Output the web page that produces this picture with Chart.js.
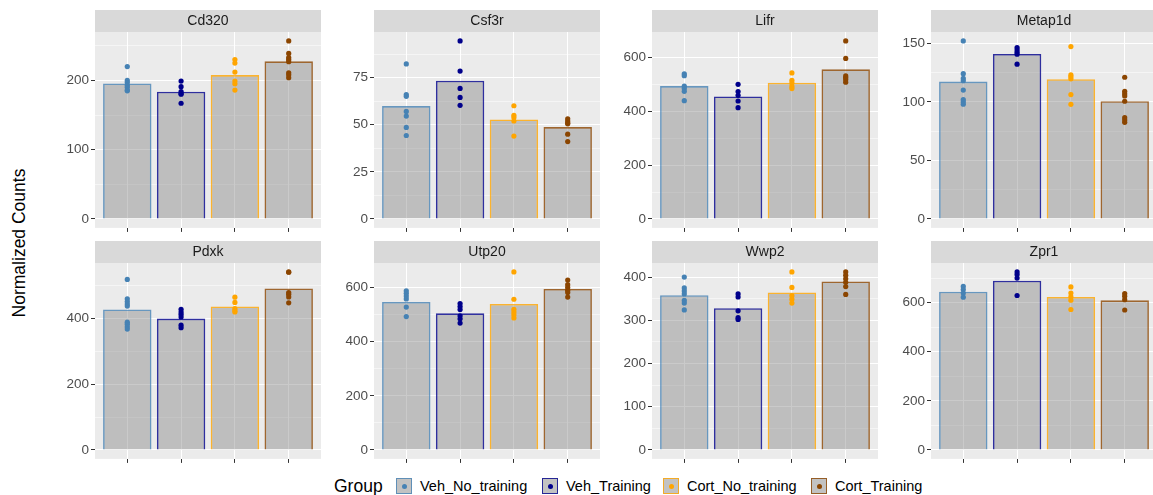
<!DOCTYPE html>
<html>
<head>
<meta charset="utf-8">
<script src="https://cdn.jsdelivr.net/npm/chart.js@4.4.0/dist/chart.umd.min.js"></script>
<style>
  body { margin: 0; background: #fff; width: 1153px; height: 495px; overflow: hidden; position: relative; font-family: 'Liberation Sans', Arial, sans-serif; }
  .panel { position: absolute; }
  #ytitle { position: absolute; left: 19px; top: 243px; transform: translate(-50%, -50%) rotate(-90deg); font-size: 17.5px; color: #000; white-space: nowrap; }
  #legend { position: absolute; left: 0; top: 476px; width: 1153px; height: 20px; color: #000; }
  #legend .ttl { position: absolute; left: 334px; top: 0; line-height: 20px; font-size: 17.5px; }
  #legend .key { position: absolute; top: 2px; width: 14px; height: 14px; background: #c2c2c2; border: 1px solid; }
  #legend .key span { position: absolute; left: 4.5px; top: 4.5px; width: 5px; height: 5px; border-radius: 50%; }
  #legend .lab { position: absolute; top: 0; line-height: 20px; font-size: 14.5px; white-space: nowrap; }
</style>
</head>
<body>
<div id="ytitle">Normalized Counts</div>
<div id="legend"><span class="ttl">Group</span></div>
<script>
const genes = ['Cd320', 'Csf3r', 'Lifr', 'Metap1d', 'Pdxk', 'Utp20', 'Wwp2', 'Zpr1'];
const groups = ['Veh_No_training', 'Veh_Training', 'Cort_No_training', 'Cort_Training'];
const groupColors = ['#4682B4', '#00008B', '#FFA500', '#8B4500'];
const barBorders = ['rgba(70,130,180,0.8)', 'rgba(0,0,139,0.8)', 'rgba(255,165,0,0.8)', 'rgba(139,69,0,0.8)'];

// group means (bar heights)
const cd320Mean = [195.6, 183.6, 207.7, 227.5];
const csf3rMean = [59.9, 73.4, 52.8, 48.8];
const lifrMean = [493.4, 455, 505.8, 555.4];
const metap1dMean = [117.3, 140.9, 119.3, 100.5];
const pdxkMean = [427.6, 400, 436.7, 491.8];
const utp20Mean = [546.9, 505, 539.5, 595];
const wwp2Mean = [358.2, 328, 364.4, 390];
const zpr1Mean = [644.7, 689.4, 623, 609.5];

// individual samples, one list per group
const cd320Pts = [[220, 200, 197, 193, 190, 186, 185], [199, 191, 184, 181, 180, 167], [230, 225, 212, 199, 195, 186], [257, 239, 233, 230, 227, 211, 208, 204]];
const csf3rPts = [[82.3, 66, 65.1, 57.1, 54.6, 48.6, 44.3], [94.5, 78.5, 69.3, 64.5, 60.3], [60.1, 55, 53.9, 52, 44], [53.2, 52, 51, 50.5, 45, 41.1]];
const lifrPts = [[539, 532, 493, 484, 474, 439], [500, 473, 459, 438, 413], [542, 515, 505, 492, 484], [661, 596, 531, 525, 518, 508]];
const metap1dPts = [[152, 124, 120, 118, 110, 102, 100, 98], [146.3, 144.3, 142.3, 140.6, 132.1], [147.2, 123, 121.5, 119.6, 106.2, 97.9], [121, 109, 107, 105, 100.5, 86.5, 84.5, 82.5]];
const pdxkPts = [[519, 460, 452, 444, 438, 389, 383, 375, 368], [428, 420, 413, 405, 380, 372], [465, 449, 430, 424, 420], [542, 541, 479, 474, 466, 448]];
const utp20Pts = [[588, 579, 569, 558, 528, 493], [541, 530, 519, 496, 485, 469], [658, 557, 520, 510, 500, 488], [628, 611, 600, 590, 582, 565]];
const wwp2Pts = [[400, 375, 368, 361, 346, 340, 324], [361, 354, 322, 306, 302], [412, 376, 357, 349, 340], [412, 404, 396, 388, 378, 360]];
const zpr1Pts = [[666, 653, 639, 622], [725, 714, 700, 629], [664, 639, 624, 610, 572], [637, 626, 612, 570]];

// y tick labels per panel
const cd320Ticks = [0, 100, 200];
const csf3rTicks = [0, 25, 50, 75];
const lifrTicks = [0, 200, 400, 600];
const metap1dTicks = [0, 50, 100, 150];
const pdxkTicks = [0, 200, 400];
const utp20Ticks = [0, 200, 400, 600];
const wwp2Ticks = [0, 100, 200, 300, 400];
const zpr1Ticks = [0, 200, 400, 600];

const means = [cd320Mean, csf3rMean, lifrMean, metap1dMean, pdxkMean, utp20Mean, wwp2Mean, zpr1Mean];
const points = [cd320Pts, csf3rPts, lifrPts, metap1dPts, pdxkPts, utp20Pts, wwp2Pts, zpr1Pts];
const ticks = [cd320Ticks, csf3rTicks, lifrTicks, metap1dTicks, pdxkTicks, utp20Ticks, wwp2Ticks, zpr1Ticks];

const colLeft = [95, 374, 652, 931];
const rowTop = [10, 241];
const AXW = 60, STRIP = 22, PW = 228, PH = 196, XAH = 10;
const FONT = "'Liberation Sans', Arial, sans-serif";

// grey strip + panel background
const panelDecor = {
  id: 'panelDecor',
  beforeDraw(chart, args, opts) {
    const { ctx, chartArea: a } = chart;
    ctx.save();
    ctx.fillStyle = '#ebebeb';
    ctx.fillRect(a.left, a.top, a.right - a.left, a.bottom - a.top);
    ctx.fillStyle = '#d9d9d9';
    ctx.fillRect(a.left, 0, a.right - a.left, a.top);
    ctx.fillStyle = '#1a1a1a';
    ctx.font = '14px ' + FONT;
    ctx.textAlign = 'center';
    ctx.textBaseline = 'middle';
    ctx.fillText(opts.title, (a.left + a.right) / 2, a.top / 2 + 0.5);
    ctx.restore();
  }
};

genes.forEach((gene, i) => {
  const col = i % 4, row = Math.floor(i / 4);
  const div = document.createElement('div');
  div.className = 'panel';
  div.style.left = (colLeft[col] - AXW) + 'px';
  div.style.top = rowTop[row] + 'px';
  const cv = document.createElement('canvas');
  cv.width = AXW + PW + 2;
  cv.height = STRIP + PH + XAH;
  div.appendChild(cv);
  document.body.appendChild(div);

  const majors = ticks[i];
  const top = Math.max(...means[i], ...points[i].flat());
  const yMin = -0.05 * top, yMax = 1.05 * top;
  const step = majors[1] - majors[0];
  const all = [];
  for (let v = 0; v <= yMax; v += step / 2) all.push(v);

  const datasets = [{
    type: 'bar',
    data: means[i].map((m, j) => ({ x: j + 1, y: m })),
    backgroundColor: 'rgba(128,128,128,0.42)',
    borderColor: barBorders,
    borderWidth: 1.6,
    barPercentage: 0.9,
    categoryPercentage: 1,
    order: 1
  }];
  groups.forEach((g, j) => {
    datasets.push({
      type: 'scatter',
      label: g,
      data: points[i][j].map(v => ({ x: j + 1, y: v })),
      backgroundColor: groupColors[j],
      borderWidth: 0,
      pointRadius: 2.6,
      order: 0
    });
  });

  new Chart(cv, {
    type: 'bar',
    data: { datasets },
    plugins: [panelDecor],
    options: {
      responsive: false,
      devicePixelRatio: 1,
      animation: false,
      events: [],
      layout: { padding: { top: STRIP, left: 0, right: 2, bottom: 0 } },
      plugins: {
        legend: { display: false },
        tooltip: { enabled: false },
        panelDecor: { title: gene }
      },
      scales: {
        x: {
          type: 'linear',
          min: 0.4,
          max: 4.6,
          offset: false,
          afterBuildTicks: s => { s.ticks = [1, 2, 3, 4].map(value => ({ value })); },
          afterFit: s => { s.height = XAH; },
          ticks: { callback: () => '', padding: 0 },
          grid: { color: '#ffffff', lineWidth: 1, offset: false, tickColor: '#333333', tickLength: 4 },
          border: { display: false }
        },
        y: {
          min: yMin,
          max: yMax,
          afterBuildTicks: s => { s.ticks = all.map(value => ({ value })); },
          afterFit: s => { s.width = AXW; },
          ticks: {
            autoSkip: false,
            padding: 2,
            color: '#4d4d4d',
            font: { family: FONT, size: 13.5 },
            callback: v => majors.includes(v) ? String(v) : ''
          },
          grid: {
            color: c => majors.includes(c.tick.value) ? '#ffffff' : 'rgba(255,255,255,0.5)',
            lineWidth: 1,
            tickColor: c => majors.includes(c.tick.value) ? '#333333' : 'rgba(0,0,0,0)',
            tickLength: 4
          },
          border: { display: false }
        }
      }
    }
  });
});

// legend: key positions along the bottom row
const keyLeft = [396, 542, 663, 811];
const leg = document.getElementById('legend');
groups.forEach((g, j) => {
  const key = document.createElement('span');
  key.className = 'key';
  key.style.left = keyLeft[j] + 'px';
  key.style.borderColor = barBorders[j];
  const dot = document.createElement('span');
  dot.style.background = groupColors[j];
  key.appendChild(dot);
  const lab = document.createElement('span');
  lab.className = 'lab';
  lab.style.left = (keyLeft[j] + 24) + 'px';
  lab.textContent = g;
  leg.appendChild(key);
  leg.appendChild(lab);
});
</script>
</body>
</html>
